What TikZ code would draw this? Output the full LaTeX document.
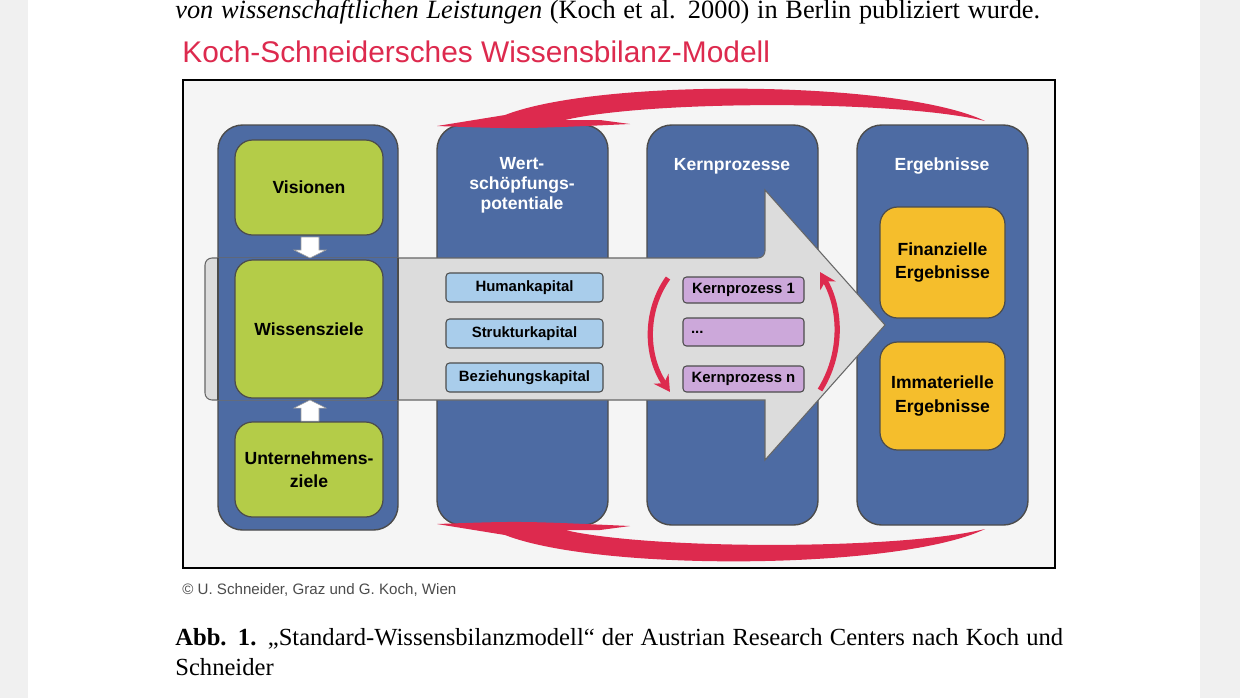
\documentclass[tikz,border=0pt]{standalone}
\usepackage{fontspec}
\setmainfont{Liberation Serif}
\setsansfont{Liberation Sans}
\usetikzlibrary{arrows.meta}
\definecolor{colblue}{HTML}{4D6BA3}
\definecolor{grn}{HTML}{B4CC48}
\definecolor{lblue}{HTML}{A9CDEB}
\definecolor{lpurp}{HTML}{CCA8DA}
\definecolor{ylw}{HTML}{F5BE2C}
\definecolor{rd}{HTML}{DD2A4E}
\definecolor{arrgray}{HTML}{DCDCDC}
\tikzset{
 col/.style={draw=black!70,line width=0.8pt,fill=colblue,rounded corners=14},
 gbox/.style={draw=black!70,line width=0.7pt,fill=grn,rounded corners=10,align=center,font=\sffamily\bfseries\fontsize{10}{13}\selectfont},
 bbox/.style={draw=black!70,line width=0.6pt,fill=lblue,rounded corners=2,font=\sffamily\bfseries\fontsize{8.5}{10}\selectfont},
 pbox/.style={draw=black!70,line width=0.6pt,fill=lpurp,rounded corners=2,font=\sffamily\bfseries\fontsize{8.5}{10}\selectfont},
 ybox/.style={draw=black!70,line width=0.7pt,fill=ylw,rounded corners=10,align=center,font=\sffamily\bfseries\fontsize{10}{13.5}\selectfont},
 coltitle/.style={text=white,align=center,font=\sffamily\bfseries\fontsize{10}{11.5}\selectfont},
 redarc/.style={draw=rd,line width=3pt,-{Stealth[length=9pt,width=10pt]}},
}
\begin{document}
\begin{tikzpicture}[x=0.02cm,y=-0.02cm]
\fill[gray!12] (0,0) rectangle (1240,698);
\fill[white] (28,0) rectangle (1200,698);
\useasboundingbox (0,0) rectangle (1240,698);
% top text
\node[anchor=west,font=\fontsize{15}{17}\selectfont,inner sep=0] (top) at (175,12) {\makebox[17.3cm][s]{\textit{von wissenschaftlichen Leistungen} (Koch et al. 2000) in Berlin publiziert wurde.}};
\node[anchor=west,text=rd,font=\sffamily\fontsize{17}{19}\selectfont,inner sep=0] (title) at (182,52) {Koch-Schneidersches Wissensbilanz-Modell};
% frame
\draw[fill=gray!8,line width=1pt] (183,80) rectangle (1055,568);
% columns
\draw[col] (218,125) rectangle (398,530);
\draw[col] (437,125) rectangle (608,525);
\draw[col] (647,125) rectangle (818,525);
\draw[col] (857,125) rectangle (1028,525);
% big arrow
\draw[fill=arrgray,draw=black!60,line width=0.6pt,rounded corners=4]
 (205,258) -- (765,258) [rounded corners=0]-- (765,190) -- (885,325) -- (765,460) -- (765,400) [rounded corners=4]-- (205,400) -- cycle;
\fill[colblue] (218.4,258.4) rectangle (397.6,399.6);
\draw[line width=0.8pt,draw=black!70] (218,258) -- (218,400) (398,258)--(398,400);
% column titles
\node[coltitle] (t2) at (522,185) {Wert-\\schöpfungs-\\potentiale};
\node[coltitle] (t3) at (732,166) {Kernprozesse};
\node[coltitle] (t4) at (942,166) {Ergebnisse};
% green boxes
\node[gbox,minimum width=148*0.02cm,minimum height=95*0.02cm] (vis) at (309,187.5) {Visionen};
\node[gbox,minimum width=148*0.02cm,minimum height=138*0.02cm] (wz) at (309,329) {Wissensziele};
\node[gbox,minimum width=148*0.02cm,minimum height=95*0.02cm] (uz) at (309,469.5) {Unternehmens-\\ziele};
% small white arrows
\fill[white,draw=black!40,line width=0.3pt] (301,237) -- (319,237) -- (319,250) -- (326,250) -- (310,258) -- (294,250) -- (301,250) -- cycle;
\fill[white,draw=black!40,line width=0.3pt] (301,421) -- (319,421) -- (319,408) -- (326,408) -- (310,400) -- (294,408) -- (301,408) -- cycle;
% blue small boxes
\node[bbox,minimum width=157*0.02cm,minimum height=29*0.02cm] (hk) at (524.5,287.5) {Humankapital};
\node[bbox,minimum width=157*0.02cm,minimum height=29*0.02cm] (sk) at (524.5,333.5) {Strukturkapital};
\node[bbox,minimum width=157*0.02cm,minimum height=29*0.02cm] (bk) at (524.5,377.5) {Beziehungskapital};
% purple boxes
\node[pbox,minimum width=121*0.02cm,minimum height=26*0.02cm] (kp1) at (743.5,290) {Kernprozess 1};
\node[pbox,minimum width=121*0.02cm,minimum height=28*0.02cm,text width=105*0.02cm,align=left] (kpd) at (743.5,332) {...};
\node[pbox,minimum width=121*0.02cm,minimum height=26*0.02cm] (kpn) at (743.5,379) {Kernprozess n};
% yellow boxes
\node[ybox,minimum width=125*0.02cm,minimum height=111*0.02cm] (fe) at (942.5,262.5) {Finanzielle\\Ergebnisse};
\node[ybox,minimum width=125*0.02cm,minimum height=108*0.02cm] (ie) at (942.5,396) {Immaterielle\\Ergebnisse};
% small red cycle arrows
\coordinate (la) at (668,278); \coordinate (lb) at (670,392);
\coordinate (ra) at (820,390); \coordinate (rb) at (820,272);
\draw[redarc] (la) .. controls (645,310) and (645,355) .. (lb);
\draw[redarc] (ra) .. controls (842,355) and (842,310) .. (rb);
% big red feedback arcs
\fill[rd] (437,126) .. controls (520,129) .. (630,124) -- (600,120) -- (565,120)
  .. controls (650,100) and (900,100) .. (985,121) .. controls (900,80) and (600,78) .. (505,115) -- cycle;
\fill[rd] (437,524) .. controls (520,521) .. (630,526) -- (600,530) -- (565,530)
  .. controls (650,550) and (900,550) .. (985,529) .. controls (900,570) and (600,572) .. (505,535) -- cycle;
% copyright
\node[anchor=west,text=black!70,font=\sffamily\fontsize{8.6}{10}\selectfont,inner sep=0] (cp) at (182,590) {© U. Schneider, Graz und G. Koch, Wien};
% caption
\node[anchor=north west,text width=17.76cm,align=justify,font=\fontsize{14}{17}\selectfont,inner sep=0] (cap) at (175,628) {\hyphenpenalty=10000 \textbf{Abb. 1.} „Standard-Wissensbilanzmodell“ der Austrian Research Centers nach Koch und\linebreak Schneider};
\end{tikzpicture}
\end{document}
